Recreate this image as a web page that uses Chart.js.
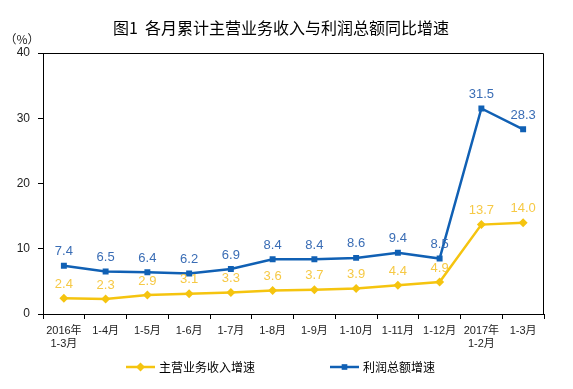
<!DOCTYPE html>
<html>
<head>
<meta charset="utf-8">
<script src="https://cdn.jsdelivr.net/npm/chart.js@4/dist/chart.umd.min.js"></script>
<style>
  html, body { margin: 0; padding: 0; background: #fff; }
  #wrap { width: 573px; height: 389px; position: relative; }
</style>
</head>
<body>
<div id="wrap"><canvas id="chart" width="573" height="389"></canvas></div>
<script>
// ── Data ──────────────────────────────────────────────────────────────────────
const MONTHS  = [
  ['2016年', '1-3月'], '1-4月', '1-5月', '1-6月', '1-7月', '1-8月',
  '1-9月', '1-10月', '1-11月', '1-12月', ['2017年', '1-2月'], '1-3月',
]
const REVENUE = [2.4, 2.3, 2.9, 3.1, 3.3, 3.6, 3.7, 3.9, 4.4, 4.9, 13.7, 14.0]
const PROFIT  = [7.4, 6.5, 6.4, 6.2, 6.9, 8.4, 8.4, 8.6, 9.4, 8.5, 31.5, 28.3]
const Y_TICKS = [0, 10, 20, 30, 40]

const TITLE   = '图1  各月累计主营业务收入与利润总额同比增速'
const UNIT    = '（%）'
const NAMES   = ['主营业务收入增速', '利润总额增速']

// ── Style ─────────────────────────────────────────────────────────────────────
const FONT   = '"Liberation Sans", "Noto Sans CJK SC", sans-serif'
const CJK    = '"Noto Sans CJK SC", "Noto Sans", sans-serif'
const YELLOW = '#F5C40F'
const BLUE   = '#1060B4'
const YELLOW_LBL = '#F6C945'
const BLUE_LBL   = '#3A6DB5'
const INK    = '#222'

// ── Plugins: title, unit, frame, value labels, legend ─────────────────────────
const decor = {
  id: 'decor',
  afterDraw(chart) {
    const { ctx, chartArea: a } = chart
    ctx.save()

    // frame (top + right sides)
    ctx.strokeStyle = '#000'
    ctx.lineWidth = 1
    ctx.beginPath()
    ctx.moveTo(a.left, a.top + 0.5)
    ctx.lineTo(a.right - 0.5, a.top + 0.5)
    ctx.lineTo(a.right - 0.5, a.bottom)
    ctx.stroke()

    // title
    ctx.fillStyle = '#000'
    ctx.font = `16px ${CJK}`
    ctx.textAlign = 'center'
    ctx.textBaseline = 'middle'
    ctx.fillText(TITLE, 281, 28)

    // unit
    ctx.font = `12px ${CJK}`
    ctx.fillStyle = INK
    ctx.fillText(UNIT, 22, 39)

    // value labels
    ctx.font = `13px ${FONT}`
    ctx.textBaseline = 'middle'
    const colors = [YELLOW_LBL, BLUE_LBL]
    chart.data.datasets.forEach((ds, i) => {
      const meta = chart.getDatasetMeta(i)
      ctx.fillStyle = colors[i]
      meta.data.forEach((pt, j) => {
        ctx.fillText(ds.data[j].toFixed(1), pt.x, pt.y - 14)
      })
    })

    // legend
    const items = [
      { x: 126, color: YELLOW, style: 'rectRot', r: 4.5 },
      { x: 330, color: BLUE,   style: 'rect',    r: 4 },
    ]
    const ly = 367
    ctx.font = `12px ${CJK}`
    ctx.textAlign = 'left'
    items.forEach((it, i) => {
      ctx.strokeStyle = it.color
      ctx.lineWidth = 2.5
      ctx.beginPath()
      ctx.moveTo(it.x, ly)
      ctx.lineTo(it.x + 29, ly)
      ctx.stroke()
      ctx.fillStyle = it.color
      Chart.helpers.drawPoint(ctx, { pointStyle: it.style, radius: it.r, borderWidth: 0 }, it.x + 14.5, ly)
      ctx.fillStyle = '#000'
      ctx.fillText(NAMES[i], it.x + 33, ly)
    })

    ctx.restore()
  },
}

// ── Chart ─────────────────────────────────────────────────────────────────────
new Chart(document.getElementById('chart'), {
  type: 'line',
  data: {
    labels: MONTHS,
    datasets: [
      {
        label: NAMES[0],
        data: REVENUE,
        borderColor: YELLOW,
        backgroundColor: YELLOW,
        borderWidth: 2.5,
        pointStyle: 'rectRot',
        pointRadius: 4.5,
        pointBorderWidth: 0,
        tension: 0,
      },
      {
        label: NAMES[1],
        data: PROFIT,
        borderColor: BLUE,
        backgroundColor: BLUE,
        borderWidth: 2.5,
        pointStyle: 'rect',
        pointRadius: 4.2,
        pointBorderWidth: 0,
        tension: 0,
      },
    ],
  },
  options: {
    responsive: false,
    animation: false,
    layout: { padding: { top: 53, right: 29, bottom: 35, left: 0 } },
    plugins: {
      legend:  { display: false },
      title:   { display: false },
      tooltip: { enabled: false },
    },
    scales: {
      x: {
        offset: true,
        grid: {
          offset: true,
          drawOnChartArea: false,
          drawTicks: true,
          tickLength: 5,
          color: '#000',
        },
        border: { display: true, color: '#000', width: 1 },
        ticks: {
          color: INK,
          font: { family: FONT, size: 11 },
          maxRotation: 0,
          autoSkip: false,
          padding: 5,
        },
        afterFit: s => { s.height = 40 },
      },
      y: {
        min: 0,
        max: 40,
        afterBuildTicks: s => { s.ticks = Y_TICKS.map(v => ({ value: v })) },
        grid: {
          drawOnChartArea: false,
          drawTicks: true,
          tickLength: 5,
          color: '#000',
        },
        border: { display: true, color: '#000', width: 1 },
        ticks: {
          color: INK,
          font: { family: FONT, size: 12 },
          padding: 8,
        },
        afterFit: s => { s.width = 43 },
      },
    },
  },
  plugins: [decor],
})
</script>
</body>
</html>
